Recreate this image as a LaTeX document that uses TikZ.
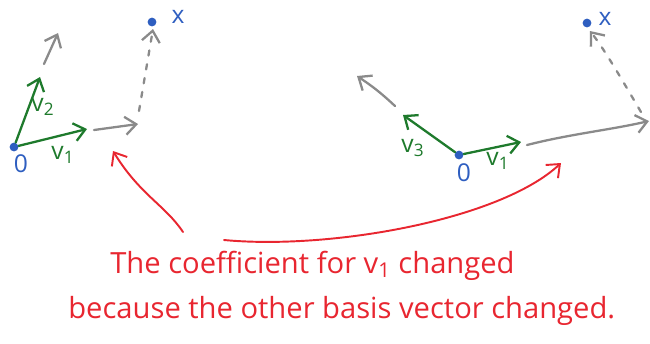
\documentclass[tikz,border=0pt]{standalone}
\usepackage{fontspec}
\setmainfont{Open Sans}
\usetikzlibrary{arrows.meta}
\definecolor{vecgreen}{HTML}{1E7A2C}
\definecolor{ghost}{HTML}{8A8A8A}
\definecolor{ptblue}{HTML}{2E5EC0}
\definecolor{notered}{HTML}{E82630}
\tikzset{
  pt/.style={circle, fill=ptblue, inner sep=0pt, minimum size=5pt},
  vec/.style={-{Straight Barb[length=2.2mm, width=3.6mm]}, draw=vecgreen, line width=1.3pt,
              line cap=round, line join=round},
  proj/.style={vec, draw=ghost},
  dotproj/.style={proj, dash pattern=on 3pt off 5pt},
  callout/.style={vec, draw=notered, line width=1.1pt},
  vlbl/.style={text=vecgreen, font=\fontsize{14}{14}\selectfont, inner sep=1pt},
  plbl/.style={text=ptblue, font=\fontsize{14}{14}\selectfont, inner sep=1pt},
  remark/.style={text=notered, font=\fontsize{16.6}{20}\selectfont, anchor=base west, inner sep=0pt},
}

\begin{document}
\begin{tikzpicture}[x=0.02cm, y=-0.02cm]
\useasboundingbox (0,0) rectangle (650,343);

% left: basis v1, v2
\node[pt] (oA) at (14,147) {};
\node[plbl] (zeroA) at (21,164) {0};
\coordinate (v1A) at (87,129);
\coordinate (v2A) at (40,77);
\draw[vec] (oA) -- (v1A);
\draw[vec] (oA) -- (v2A);
\node[vlbl] (v1Albl) at (63,155) {v\textsubscript{1}};
\node[vlbl] (v2Albl) at (43,107) {v\textsubscript{2}};

\coordinate (g1Afrom) at (94,130);
\coordinate (g1Ato) at (138,124);
\coordinate (g2Afrom) at (44,64);
\coordinate (g2Ato) at (58,33);
\draw[proj] (g1Afrom) -- (g1Ato);
\draw[proj] (g2Afrom) -- (g2Ato);

\node[pt] (xA) at (152,22) {};
\node[plbl] (xAlbl) at (178,17) {x};
\coordinate (dAfrom) at (139,111);
\coordinate (dAto) at (153,29);
\draw[dotproj] (dAfrom) -- (dAto);

% right: basis v1, v3
\node[pt] (oB) at (459,155) {};
\node[plbl] (zeroB) at (464,173) {0};
\coordinate (v1B) at (521,142);
\coordinate (v3B) at (403,115);
\draw[vec] (oB) -- (v1B);
\draw[vec] (oB) -- (v3B);
\node[vlbl] (v1Blbl) at (498,161) {v\textsubscript{1}};
\node[vlbl] (v3Blbl) at (413,148) {v\textsubscript{3}};

\coordinate (g3Bfrom) at (395,106);
\coordinate (g3Bto) at (357,76);
\coordinate (g1Bfrom) at (527,145);
\coordinate (g1Bto) at (649,121);
\draw[proj] (g3Bfrom) .. controls (380,92) and (372,86) .. (g3Bto);
\draw[proj] (g1Bfrom) .. controls (570,134) and (610,130) .. (g1Bto);

\node[pt] (xB) at (587,23) {};
\node[plbl] (xBlbl) at (605,19) {x};
\coordinate (dBfrom) at (641,112);
\coordinate (dBto) at (590,31);
\draw[dotproj] (dBfrom) .. controls (625,85) and (605,50) .. (dBto);

% remark
\node[remark] (line1) at (110,273) {The coefficient for v\textsubscript{1} changed};
\node[remark] (line2) at (68,318) {because the other basis vector changed.};

\coordinate (tailA) at (183,232);
\coordinate (headA) at (113,151);
\coordinate (tailB) at (224,240);
\coordinate (headB) at (561,163);
\draw[callout] (tailA) .. controls (165,205) and (140,195) .. (headA);
\draw[callout] (tailB) .. controls (330,250) and (500,220) .. (headB);

\end{tikzpicture}
\end{document}
